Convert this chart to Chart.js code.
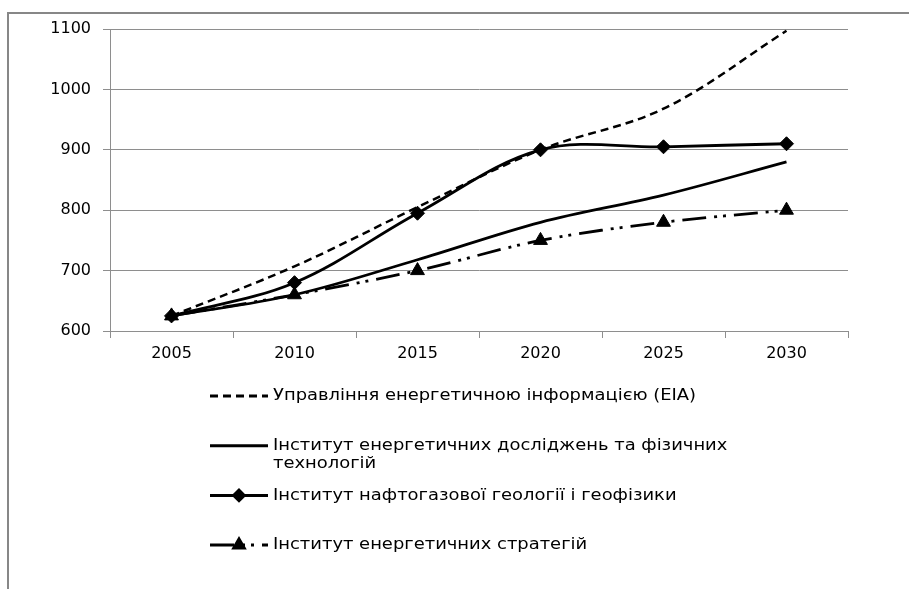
<!DOCTYPE html>
<html>
<head>
<meta charset="utf-8">
<script src="https://cdn.jsdelivr.net/npm/chart.js@4.4.1/dist/chart.umd.min.js"></script>
<style>
  html, body { margin: 0; padding: 0; background: #fff; }
</style>
</head>
<body>
<canvas id="chart" width="909" height="589"></canvas>
<script>
// data
const years = ['2005', '2010', '2015', '2020', '2025', '2030'];
const eiaValues = [625, 707, 805, 900, 968, 1097];
const energyResearchValues = [625, 660, 718, 780, 825, 880];
const oilGasValues = [625, 680, 795, 900, 905, 910];
const strategyValues = [625, 660, 700, 750, 780, 800];
const seriesNames = [
    'Управління енергетичною інформацією (ЕІА)',
    'Інститут енергетичних досліджень та фізичних технологій',
    'Інститут нафтогазової геології і геофізики',
    'Інститут енергетичних стратегій'
];
const yTicks = [600, 700, 800, 900, 1000, 1100];

const FONT = 'DejaVu Sans';
const GRID = '#8e8e8e';

/* outer frame of the chart (only top and left edges are visible) */
const framePlugin = {
    id: 'frame',
    beforeDraw(chart) {
        const ctx = chart.ctx;
        ctx.save();
        ctx.fillStyle = '#fff';
        ctx.fillRect(0, 0, chart.width, chart.height);
        ctx.strokeStyle = '#878787';
        ctx.lineWidth = 2;
        ctx.beginPath();
        ctx.moveTo(8, chart.height);
        ctx.lineTo(8, 13);
        ctx.lineTo(chart.width, 13);
        ctx.stroke();
        ctx.restore();
    }
};

/* vertical legend under the plot, like the original */
const legendPlugin = {
    id: 'vlegend',
    afterDraw(chart) {
        const ctx = chart.ctx;
        const x0 = 210, x1 = 268, tx = 273, maxW = 480, stretch = 1.12;
        ctx.save();
        ctx.font = '16px "' + FONT + '"';
        ctx.textBaseline = 'middle';
        chart.data.datasets.forEach((ds, i) => {
            const y = 396 + i * 49.7;
            // sample line
            ctx.strokeStyle = '#000';
            ctx.lineWidth = 3;
            ctx.setLineDash(ds.borderDash || []);
            ctx.beginPath();
            ctx.moveTo(x0, y);
            ctx.lineTo(x1, y);
            ctx.stroke();
            ctx.setLineDash([]);
            if (ds.pointRadius > 0) {
                Chart.helpers.drawPoint(ctx, {
                    pointStyle: ds.pointStyle,
                    radius: ds.pointRadius * 0.75,
                    borderWidth: 1
                }, (x0 + x1) / 2, y);
                ctx.fillStyle = '#000';
                ctx.fill();
            }
            // text with simple word wrap (the original text is a bit wide)
            ctx.fillStyle = '#000';
            const words = ds.label.split(' ');
            let line = '', lines = [];
            words.forEach(w => {
                const test = line ? line + ' ' + w : w;
                if (ctx.measureText(test).width * stretch > maxW && line) {
                    lines.push(line);
                    line = w;
                } else {
                    line = test;
                }
            });
            lines.push(line);
            lines.forEach((l, k) => {
                ctx.save();
                ctx.translate(tx, y + k * 18);
                ctx.scale(stretch, 1);
                ctx.fillText(l, 0, 0);
                ctx.restore();
            });
        });
        ctx.restore();
    }
};

const ctx = document.getElementById('chart').getContext('2d');
new Chart(ctx, {
    type: 'line',
    data: {
        labels: years,
        datasets: [
            {
                label: seriesNames[0],
                data: eiaValues,
                borderColor: '#000',
                borderWidth: 2.5,
                borderDash: [8, 5],
                pointRadius: 0,
                tension: 0.35
            },
            {
                label: seriesNames[1],
                data: energyResearchValues,
                borderColor: '#000',
                borderWidth: 2.8,
                pointRadius: 0,
                tension: 0.35
            },
            {
                label: seriesNames[2],
                data: oilGasValues,
                borderColor: '#000',
                backgroundColor: '#000',
                borderWidth: 2.8,
                pointStyle: 'rectRot',
                pointRadius: 7,
                pointBorderWidth: 1,
                tension: 0.35
            },
            {
                label: seriesNames[3],
                data: strategyValues,
                borderColor: '#000',
                backgroundColor: '#000',
                borderWidth: 2.8,
                borderDash: [24, 8, 3, 6, 3, 8],
                pointStyle: 'triangle',
                pointRadius: 8,
                pointBorderWidth: 1,
                tension: 0.35
            }
        ]
    },
    options: {
        responsive: false,
        animation: false,
        layout: { padding: { left: 10, right: 61, top: 29, bottom: 218 } },
        plugins: {
            legend: { display: false },
            tooltip: { enabled: false }
        },
        scales: {
            x: {
                offset: true,
                grid: {
                    offset: true,
                    drawOnChartArea: false,
                    drawTicks: true,
                    tickLength: 7,
                    color: GRID
                },
                border: { color: GRID },
                ticks: { color: '#000', font: { family: FONT, size: 16 }, padding: 6 },
                afterFit(scale) { scale.height = 40; }
            },
            y: {
                min: 600,
                max: 1100,
                afterBuildTicks(scale) { scale.ticks = yTicks.map(v => ({ value: v })); },
                grid: { color: GRID, tickLength: 7 },
                border: { color: GRID },
                ticks: {
                    color: '#000',
                    font: { family: FONT, size: 16 },
                    padding: 12,
                    callback: v => String(v)
                },
                afterFit(scale) { scale.width = 100; }
            }
        }
    },
    plugins: [framePlugin, legendPlugin]
});
</script>
</body>
</html>
